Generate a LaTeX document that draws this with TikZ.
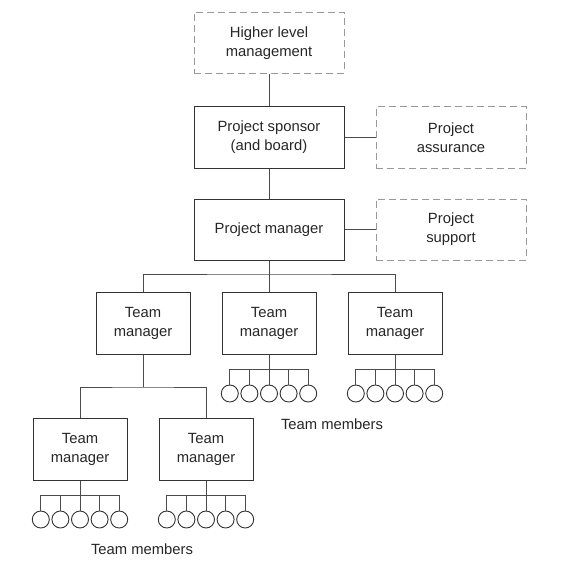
\documentclass[tikz,border=0pt]{standalone}
\usepackage{fontspec}
\setmainfont{Liberation Sans}
\begin{document}
\begin{tikzpicture}[x=1pt,y=-1pt,
  every node/.style={font=\fontsize{14.8}{19}\selectfont, text=black!85},
  solidbox/.style={draw=black!80, line width=1pt, align=center, minimum width=150pt, minimum height=61pt, inner sep=0pt},
  dashbox/.style={draw=black!40, line width=1pt, dash pattern=on 7pt off 4pt, align=center, minimum width=150pt, minimum height=61pt, inner sep=0pt},
  tmbox/.style={draw=black!80, line width=1pt, align=center, minimum width=94pt, minimum height=62pt, inner sep=0pt},
  member/.style={draw=black!80, line width=0.9pt, circle, minimum size=17pt, inner sep=0pt},
  link/.style={draw=black!70, line width=0.9pt},
  caption/.style={font=\fontsize{14.8}{19}\selectfont}]
\useasboundingbox (0,0) rectangle (570,567);

\node[dashbox] (hlm) at (269,43) {Higher level\\management};
\node[solidbox] (ps) at (269,137.5) {Project sponsor\\(and board)};
\node[dashbox] (pa) at (451,137.5) {Project\\assurance};
\node[solidbox] (pm) at (269,229.5) {Project manager};
\node[dashbox] (sup) at (451,229.5) {Project\\support};

\node[tmbox] (tm1) at (143,323) {Team\\manager};
\node[tmbox] (tm2) at (269,323) {Team\\manager};
\node[tmbox] (tm3) at (395,323) {Team\\manager};
\node[tmbox] (tm4) at (80,449) {Team\\manager};
\node[tmbox] (tm5) at (206,449) {Team\\manager};

\draw[link] (hlm) -- (ps);
\draw[link] (ps) -- (pm);
\draw[link] (ps.east) -- (pa.west);
\draw[link] (pm.east) -- (sup.west);
\draw[link] (pm) -- (tm2);
\coordinate (busA) at (269,274);
\draw[link] (tm1.north) |- (busA) -| (tm3.north);
\coordinate (busB) at (143,387);
\draw[link] (tm1.south) -- (busB);
\draw[link] (tm4.north) |- (busB) -| (tm5.north);

% team members
\foreach \t/\cx/\cy in {tm2/269/393.5, tm3/395/393.5, tm4/80/519.5, tm5/206/519.5}{
  \foreach \i in {1,...,5}{
    \node[member] (\t-m\i) at ({\cx+(\i-3)*19.6},\cy) {};
  }
  \coordinate (\t-bus) at (\cx,{\cy-24});
  \draw[link] (\t.south) -- (\t-bus);
  \draw[link] (\t-m1.north) |- (\t-bus) -| (\t-m5.north);
  \draw[link] (\t-m2.north) -- (\t-m2.north |- \t-bus);
  \draw[link] (\t-m3.north) -- (\t-bus);
  \draw[link] (\t-m4.north) -- (\t-m4.north |- \t-bus);
}

\node[caption] (cap1) at (332,424) {Team members};
\node[caption] (cap2) at (142,549) {Team members};
\end{tikzpicture}
\end{document}
